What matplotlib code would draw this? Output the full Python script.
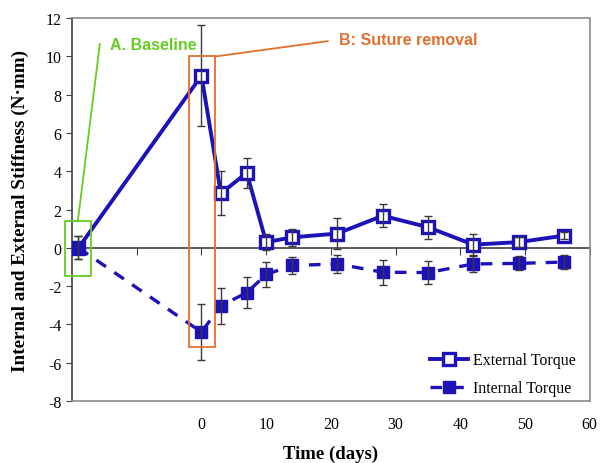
import matplotlib.pyplot as plt
from matplotlib.patches import Rectangle

# days after surgery; baseline drawn at -19
DAYS = [-19, 0, 3, 7, 10, 14, 21, 28, 35, 42, 49, 56]
EXT = [0.0, 9.0, 2.85, 3.92, 0.3, 0.55, 0.75, 1.68, 1.08, 0.17, 0.3, 0.64]
EXT_ERR = [0.6, 2.65, 1.15, 0.78, 0.42, 0.45, 0.8, 0.6, 0.6, 0.55, 0.25, 0.2]
INT = [0.0, -4.4, -3.02, -2.34, -1.39, -0.92, -0.84, -1.27, -1.29, -0.84, -0.81, -0.74]
INT_ERR = [0.6, 1.48, 0.95, 0.8, 0.63, 0.45, 0.48, 0.65, 0.6, 0.44, 0.37, 0.38]
XTICKS = [0, 10, 20, 30, 40, 50, 60]
YTICKS = [-8, -6, -4, -2, 0, 2, 4, 6, 8, 10, 12]

BLUE = "#1c12b8"
GREEN = "#66cc22"
ORANGE = "#e0702e"
SERIF = "Liberation Serif"
SANS = "Liberation Sans"

fig = plt.figure(figsize=(6, 4.64), dpi=100)
ax = fig.add_axes([0.12, 0.1336, 0.863, 0.825])

ax.plot(DAYS, EXT, "-s", color=BLUE, lw=2.8, ms=8.5, mfc="white", mec=BLUE, mew=2.4,
        label="External Torque", zorder=3)
ax.plot(DAYS, INT, "--s", color=BLUE, lw=2.4, ms=8.5, mfc=BLUE, mec=BLUE, dashes=(3.5, 3),
        label="Internal Torque", zorder=3)
ax.errorbar(DAYS, EXT, yerr=EXT_ERR, fmt="none", ecolor="#3a3a3a", elinewidth=1, capsize=3, zorder=4)
ax.errorbar(DAYS, INT, yerr=INT_ERR, fmt="none", ecolor="#3a3a3a", elinewidth=1, capsize=3, zorder=4)

ax.set_xlim(-20, 60)
ax.set_ylim(-8, 12)
ax.set_yticks(YTICKS)
ax.set_yticklabels([str(v) for v in YTICKS], fontfamily=SERIF, fontsize=11.5)
ax.tick_params(axis="y", direction="out", length=4, color="#404040")
ax.set_xticks(XTICKS)
ax.set_xticklabels([str(v) for v in XTICKS], fontfamily=SERIF, fontsize=11.5)
ax.tick_params(axis="x", length=0, pad=11)
for side in ["top", "right", "bottom"]:
    ax.spines[side].set_color("#8c8c8c")
    ax.spines[side].set_linewidth(1.2)
ax.spines["left"].set_color("#404040")
ax.spines["left"].set_linewidth(1.2)

# zero line axis with ticks
zero = ax.secondary_xaxis(0.4)
zero.set_xticks(range(-20, 61, 10))
zero.set_xticklabels([])
zero.tick_params(direction="out", length=5, color="#404040")
zero.spines["bottom"].set_color("#404040")
zero.spines["bottom"].set_linewidth(1.2)

ax.set_xlabel("Time (days)", fontfamily=SERIF, fontsize=13.5, fontweight="bold", labelpad=9)
ax.set_ylabel("Internal and External Stiffness (N\u00b7mm)", fontfamily=SERIF, fontsize=13.8,
              fontweight="bold", labelpad=12)

# annotations
ax.add_patch(Rectangle((-21.1, -1.45), 4.0, 2.85, fill=False, ec=GREEN, lw=1.3, clip_on=False, zorder=5))
ax.plot([-19.1, -15.7], [1.4, 10.65], color=GREEN, lw=1.3, zorder=5)
ax.text(-14.1, 10.65, "A. Baseline", color=GREEN, fontfamily=SANS, fontsize=11.5,
        fontweight="bold", va="center")
ax.add_patch(Rectangle((-1.9, -5.2), 4.0, 15.2, fill=False, ec=ORANGE, lw=1.3, zorder=5))
ax.plot([2.1, 19.5], [10.0, 10.8], color=ORANGE, lw=1.3, zorder=5)
ax.text(21.2, 10.9, "B: Suture removal", color=ORANGE, fontfamily=SANS, fontsize=11.5,
        fontweight="bold", va="center")

ax.legend(loc="lower right", frameon=False, prop={"family": SERIF, "size": 11.5},
          handlelength=2.4, handletextpad=0.3, labelspacing=0.75, bbox_to_anchor=(1.0, -0.025))

fig.savefig("out.png", dpi=100)
